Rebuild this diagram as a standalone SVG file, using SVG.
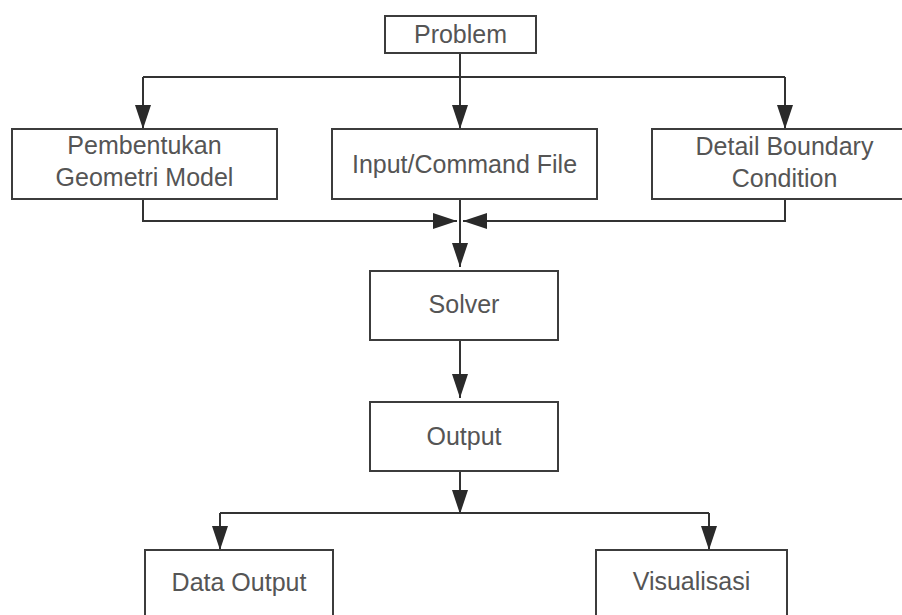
<svg xmlns="http://www.w3.org/2000/svg" width="902" height="615" viewBox="0 0 902 615">
  <defs>
    <marker id="arrow" viewBox="0 0 24 16" refX="24" refY="8" markerWidth="24" markerHeight="16" markerUnits="userSpaceOnUse" orient="auto">
      <path d="M0,0 L24,8 L0,16 z" fill="#2a2a2a"/>
    </marker>
    <style>
      .box { fill: #ffffff; stroke: #3c3c3c; stroke-width: 2; }
      .lbl { font-family: "Liberation Sans", Arial, sans-serif; font-size: 25px; fill: #555555; text-anchor: middle; }
      .wire { fill: none; stroke: #333333; stroke-width: 2; }
    </style>
  </defs>
  <rect width="902" height="615" fill="#ffffff"/>

  <!-- connectors -->
  <g id="connectors">
    <path class="wire" d="M460,53 V77"/>
    <path class="wire" d="M143,77 H785"/>
    <path class="wire" d="M143,77 V129" marker-end="url(#arrow)"/>
    <path class="wire" d="M460,77 V129" marker-end="url(#arrow)"/>
    <path class="wire" d="M785,77 V129" marker-end="url(#arrow)"/>
    <path class="wire" d="M143,199 V221 H457" marker-end="url(#arrow)"/>
    <path class="wire" d="M785,199 V221 H463" marker-end="url(#arrow)"/>
    <path class="wire" d="M460,199 V267" marker-end="url(#arrow)"/>
    <path class="wire" d="M460,340 V398" marker-end="url(#arrow)"/>
    <path class="wire" d="M460,471 V514" marker-end="url(#arrow)"/>
    <path class="wire" d="M220,513 H709"/>
    <path class="wire" d="M220,513 V550" marker-end="url(#arrow)"/>
    <path class="wire" d="M709,513 V550" marker-end="url(#arrow)"/>
  </g>

  <!-- nodes -->
  <g id="problem">
    <rect class="box" x="385" y="16" width="151" height="37"/>
    <text class="lbl" x="460.5" y="43">Problem</text>
  </g>
  <g id="geometri">
    <rect class="box" x="12" y="129" width="265" height="70"/>
    <text class="lbl" x="144.5" y="154">Pembentukan</text>
    <text class="lbl" x="144.5" y="186">Geometri Model</text>
  </g>
  <g id="input">
    <rect class="box" x="332" y="129" width="265" height="70"/>
    <text class="lbl" x="464.5" y="173">Input/Command File</text>
  </g>
  <g id="boundary">
    <rect class="box" x="652" y="129" width="265" height="70"/>
    <text class="lbl" x="784.5" y="155">Detail Boundary</text>
    <text class="lbl" x="784.5" y="187">Condition</text>
  </g>
  <g id="solver">
    <rect class="box" x="370" y="271" width="188" height="69"/>
    <text class="lbl" x="464" y="313">Solver</text>
  </g>
  <g id="output">
    <rect class="box" x="370" y="402" width="188" height="69"/>
    <text class="lbl" x="464" y="445">Output</text>
  </g>
  <g id="data-output">
    <rect class="box" x="145" y="550" width="188" height="80"/>
    <text class="lbl" x="239" y="591">Data Output</text>
  </g>
  <g id="visualisasi">
    <rect class="box" x="596" y="550" width="191" height="80"/>
    <text class="lbl" x="691.5" y="590">Visualisasi</text>
  </g>
</svg>
